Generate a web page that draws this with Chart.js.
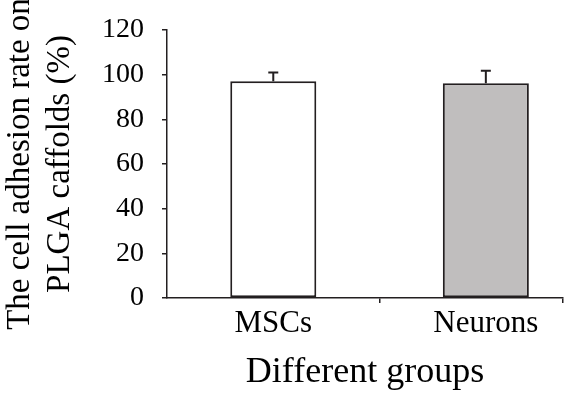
<!DOCTYPE html>
<html>
<head>
<meta charset="utf-8">
<script src="https://cdn.jsdelivr.net/npm/chart.js@4/dist/chart.umd.min.js"></script>
<style>
  body { margin: 0; background: #fff; overflow: hidden; }
</style>
</head>
<body>
<canvas id="chart" width="565" height="397"></canvas>
<script>
const groups = ["MSCs", "Neurons"];
const means = [97, 96.2];
const errors = [4, 5.5];
const barColors = ["#ffffff", "#c0bebe"];
const yTicks = [0, 20, 40, 60, 80, 100, 120];
// x axis is cropped on the right, it stops short of the second category's end
const xEnd = 1.863;

const ink = "#231f20";
const serif = "'Liberation Serif', 'Times New Roman', serif";

// error bars, upper half only
const errorBars = {
  id: "errorBars",
  afterDatasetsDraw(chart) {
    const ctx = chart.ctx;
    const y = chart.scales.y;
    const meta = chart.getDatasetMeta(0);
    ctx.save();
    ctx.strokeStyle = ink;
    ctx.lineWidth = 2;
    meta.data.forEach((bar, i) => {
      const top = y.getPixelForValue(means[i] + errors[i]);
      ctx.beginPath();
      ctx.moveTo(bar.x, bar.y);
      ctx.lineTo(bar.x, top);
      ctx.moveTo(bar.x - 5, top);
      ctx.lineTo(bar.x + 5, top);
      ctx.stroke();
    });
    ctx.restore();
  }
};

new Chart(document.getElementById("chart"), {
  type: "bar",
  data: {
    datasets: [{
      data: groups.map((g, i) => ({ x: i + 0.5, y: means[i] })),
      backgroundColor: barColors,
      borderColor: ink,
      borderWidth: 2,
      borderSkipped: false,
      // bar width is taken from the shortest tick gap (1 .. xEnd)
      barPercentage: 0.469,
      categoryPercentage: 1
    }]
  },
  options: {
    responsive: false,
    animation: false,
    layout: { padding: { top: 30, right: 2, left: 0, bottom: 0 } },
    plugins: { legend: { display: false }, tooltip: { enabled: false } },
    scales: {
      x: {
        type: "linear", min: 0, max: xEnd, weight: 0, offset: false,
        afterBuildTicks: (s) => { s.ticks = [{ value: 1 }, { value: xEnd }]; },
        afterFit: (s) => { s.height = 5; },
        grid: { offset: false, drawOnChartArea: false, tickLength: 5, color: ink, lineWidth: 1.5 },
        border: { color: ink, width: 1.5 },
        ticks: { display: false }
      },
      groupAxis: {
        type: "linear", position: "bottom", min: 0, max: xEnd, weight: 1, offset: false,
        afterBuildTicks: (s) => { s.ticks = groups.map((g, i) => ({ value: i + 0.5 })); },
        afterFit: (s) => { s.height = 94; },
        grid: { display: false, drawTicks: false, offset: false },
        border: { display: false },
        ticks: {
          color: "#000", padding: 2, maxRotation: 0, autoSkip: false,
          font: { family: serif, size: 31 },
          callback: (v, i) => groups[i]
        },
        title: {
          display: true, text: "Different groups", color: "#000",
          font: { family: serif, size: 36, lineHeight: 1.2 },
          padding: { top: 0, bottom: 3 }
        }
      },
      y: {
        min: 0, max: 120,
        afterFit: (s) => { s.width = 167; s.paddingTop = 0; },
        afterBuildTicks: (s) => { s.ticks = yTicks.map(v => ({ value: v })); },
        grid: { drawOnChartArea: false, tickLength: 5, color: ink, lineWidth: 1.5 },
        border: { color: ink, width: 1.5 },
        ticks: { color: "#000", padding: 18, font: { family: serif, size: 28 } },
        title: {
          display: true, text: ["The cell adhesion rate on", "PLGA caffolds (%)"], color: "#000",
          font: { family: serif, size: 33, lineHeight: 1.22 },
          padding: { top: 0, bottom: 0 }
        }
      }
    }
  },
  plugins: [errorBars]
});
</script>
</body>
</html>
